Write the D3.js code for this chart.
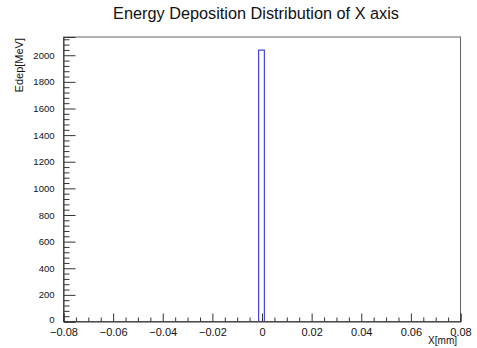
<!DOCTYPE html>
<html>
<head>
<meta charset="utf-8">
<script src="https://cdn.jsdelivr.net/npm/d3@7/dist/d3.min.js"></script>
<style>
  html, body { margin: 0; padding: 0; background: #fff; }
  svg { display: block; font-family: "Liberation Sans", Arial, Helvetica, sans-serif; }
</style>
</head>
<body>
<svg id="chart" width="477" height="348"></svg>
<script>
// ---- data ----
const title = "Energy Deposition Distribution of X axis";
const xTitle = "X[mm]";
const yTitle = "Edep[MeV]";
const binLow = [-0.00116];
const binHigh = [0.00116];
const binValue = [2035];
const xDomain = [-0.08, 0.08];
const yDomain = [0, 2137];
const xMajorTicks = [-0.08, -0.06, -0.04, -0.02, 0, 0.02, 0.04, 0.06, 0.08];
const xTickLabels = ["\u22120.08", "\u22120.06", "\u22120.04", "\u22120.02", "0", "0.02", "0.04", "0.06", "0.08"];
const yMajorTicks = [0, 200, 400, 600, 800, 1000, 1200, 1400, 1600, 1800, 2000];
const yTickLabels = ["0", "200", "400", "600", "800", "1000", "1200", "1400", "1600", "1800", "2000"];

// ---- layout ----
const W = 477, H = 348;
const m = { left: 63, right: 17, top: 36.5, bottom: 27 };
const svg = d3.select("#chart");

const x = d3.scaleLinear().domain(xDomain).range([m.left, W - m.right]);
const y = d3.scaleLinear().domain(yDomain).range([H - m.bottom, m.top]);

const axisColor = "#333";

// frame
svg.append("rect")
  .attr("x", x(xDomain[0]) + 0.5).attr("y", y(yDomain[1]) + 0.5)
  .attr("width", x(xDomain[1]) - x(xDomain[0]))
  .attr("height", y(yDomain[0]) - y(yDomain[1]))
  .attr("fill", "none").attr("stroke", "#666").attr("stroke-width", 1);

// histogram
const hist = svg.append("g");
binValue.forEach((v, i) => {
  const p = d3.path();
  p.moveTo(x(binLow[i]), y(0));
  p.lineTo(x(binLow[i]), y(v));
  p.lineTo(x(binHigh[i]), y(v));
  p.lineTo(x(binHigh[i]), y(0));
  hist.append("path").attr("d", p.toString())
    .attr("fill", "none").attr("stroke", "#4646dc").attr("stroke-width", 1.2);
});

// x axis (ticks inside, pointing up)
const xMinor = d3.range(xDomain[0], xDomain[1] + 1e-9, 0.005).filter(t => Math.abs(Math.round(t / 0.02) * 0.02 - t) > 1e-9);
const xAxisMajor = d3.axisBottom(x).tickValues(xMajorTicks).tickSize(-8).tickFormat((d, i) => xTickLabels[i]).tickPadding(10);
const gx = svg.append("g").attr("transform", `translate(0.5,${y(0) + 0.5})`).call(xAxisMajor);
gx.select(".domain").attr("stroke", axisColor);
gx.selectAll(".tick line").attr("stroke", axisColor);
gx.selectAll(".tick text").attr("font-size", 11).attr("fill", "#111").attr("dy", "0.4em");
const gxm = svg.append("g").attr("transform", `translate(0.5,${y(0) + 0.5})`)
  .call(d3.axisBottom(x).tickValues(xMinor).tickSize(-4).tickFormat(""));
gxm.select(".domain").remove();
gxm.selectAll(".tick line").attr("stroke", axisColor);

// y axis (ticks inside, pointing right)
const yMinor = d3.range(0, yDomain[1], 40).filter(t => t % 200 !== 0);
const yAxisMajor = d3.axisLeft(y).tickValues(yMajorTicks).tickSize(-12).tickFormat((d, i) => yTickLabels[i]).tickPadding(9);
const gy = svg.append("g").attr("transform", `translate(${x(xDomain[0]) + 0.5},0.5)`).call(yAxisMajor);
gy.select(".domain").attr("stroke", axisColor);
gy.selectAll(".tick line").attr("stroke", axisColor);
gy.selectAll(".tick text").attr("font-size", 9.5).attr("fill", "#111");
gy.selectAll(".tick").filter(d => d === 0).select("text").attr("dy", "0.1em");
const gym = svg.append("g").attr("transform", `translate(${x(xDomain[0]) + 0.5},0.5)`)
  .call(d3.axisLeft(y).tickValues(yMinor).tickSize(-6).tickFormat(""));
gym.select(".domain").remove();
gym.selectAll(".tick line").attr("stroke", axisColor);

// titles
svg.append("text").attr("x", 256).attr("y", 19)
  .attr("text-anchor", "middle").attr("font-size", 16.3).attr("fill", "#111").text(title);
svg.append("text").attr("x", x(xDomain[1]) - 3).attr("y", 344)
  .attr("text-anchor", "end").attr("font-size", 10).attr("fill", "#111").text(xTitle);
svg.append("text").attr("transform", `translate(23,${m.top + 1.5}) rotate(-90)`)
  .attr("text-anchor", "end").attr("font-size", 11).attr("fill", "#111").text(yTitle);
</script>
</body>
</html>
